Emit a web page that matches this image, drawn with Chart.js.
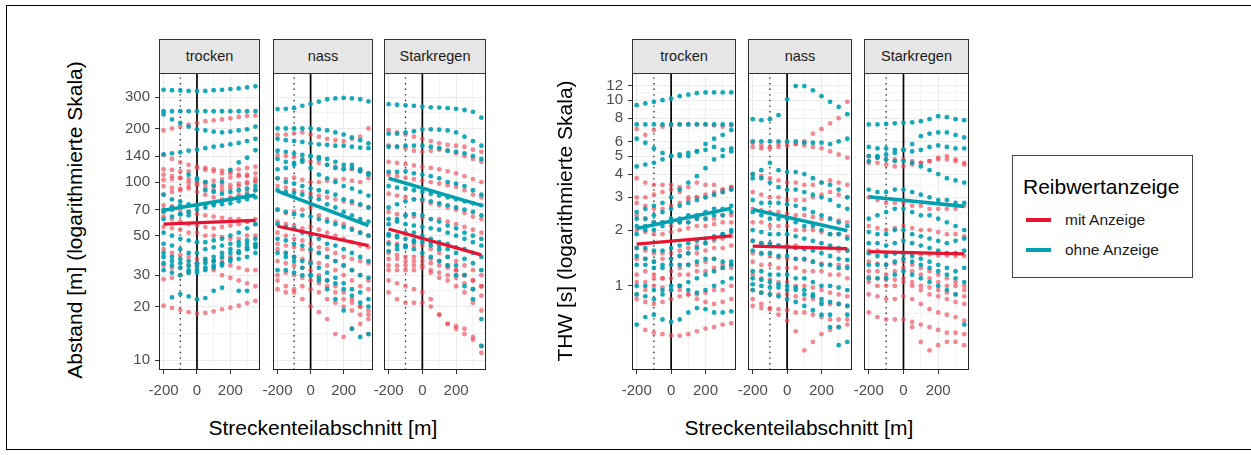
<!DOCTYPE html>
<html>
<head>
<meta charset="utf-8">
<script src="https://cdn.jsdelivr.net/npm/chart.js@4.4.0/dist/chart.umd.min.js"></script>
<style>
  body { margin: 0; background: #fff; font-family: "Liberation Sans", Arial, sans-serif; }
  #wrap { position: relative; width: 1251px; height: 455px; overflow: hidden; }
  .frame { position: absolute; left: 6px; top: 5px; width: 1300px; height: 443px; border: 1px solid #000; }
  .strip { position: absolute; top: 39px; height: 35px; box-sizing: border-box; background: #e6e6e6;
           border: 1px solid #333; font-size: 14.5px; color: #1a1a1a; text-align: center; line-height: 32px; }
  .title { position: absolute; font-size: 21px; color: #000; text-align: center; white-space: nowrap; line-height: 24px; }
  .ytitle { width: 400px; transform: rotate(-90deg); }
  .legend { position: absolute; left: 1012px; top: 155px; width: 181px; height: 123px; box-sizing: border-box; border: 1px solid #444; }
  .legend .lt { position: absolute; left: 10px; top: 19px; font-size: 21px; }
  .legend .key { position: absolute; left: 13px; width: 25px; height: 4px; }
  .legend .lab { position: absolute; left: 52px; font-size: 15.5px; color: #1a1a1a; line-height: 18px; }
</style>
</head>
<body>
<div id="wrap">
  <div class="frame"></div>
</div>
<script>
// Streckenteilabschnitt positions (m)
const xPos = [-200, -150, -100, -50, 0, 50, 100, 150, 200, 250, 300, 350];
const xTickLabels = [-200, 0, 200];
const abstandTicks = [10, 20, 30, 50, 70, 100, 140, 200, 300];
const thwTicks = [1, 2, 3, 4, 5, 6, 8, 10, 12];
const stripLabels = ["trocken", "nass", "Starkregen"];
const seriesNames = ["mit Anzeige", "ohne Anzeige"];

// Abstand [m], trocken
const abstandTrockenOhne = [
  [330, 328, 327, 325, 325, 325, 328, 330, 333, 336, 340, 345],
  [250, 250, 250, 250, 250, 250, 250, 250, 250, 250, 250, 250],
  [240, 225, 215, 205, 198, 195, 192, 190, 192, 195, 198, 205],
  [143, 145, 147, 150, 152, 155, 158, 160, 163, 166, 170, 175],
  [85, 80, 78, 75, 74, 75, 76, 78, 80, 82, 85, 90],
  [68, 70, 66, 65, 70, 72, 74, 75, 76, 78, 80, 82],
  [70, 72, 74, 110, 105, 100, 95, 100, 117, 129, 137, 151],
  [62, 64, 66, 68, 103, 90, 88, 86, 88, 90, 92, 95],
  [52, 50, 48, 47, 46, 46, 47, 48, 50, 52, 55, 58],
  [45, 44, 42, 40, 40, 42, 43, 44, 45, 46, 47, 48],
  [40, 38, 37, 36, 35, 37, 38, 40, 42, 44, 45, 45],
  [38, 36, 35, 34, 34, 35, 36, 38, 40, 41, 43, 44],
  [35, 34, 33, 32, 32, 33, 34, 35, 37, 40, 42, 43],
  [32, 31, 30, 31, 31, 32, 33, 34, 36, 37, 38, 40],
  [null, 22.5, 23.5, 22.8, 22, 22.3, 24.5, 25.5, null, 24.5, 24.5, null]
];
const abstandTrockenMit = [
  [195, 200, 205, 210, 215, 220, 222, 225, 228, 232, 235, 236],
  [142, 135, 129, 125, 122, 120, 118, 116, 115, 118, 120, 122],
  [118, 117, 115, 115, 120, 117, 115, 112, 112, 110, 108, 105],
  [110, 108, 106, 104, 100, 98, 96, 95, 96, 98, 100, 102],
  [103, 104, 105, 100, 98, 100, 102, 104, 106, 108, 110, 112],
  [95, 93, 92, 95, 96, 93, 90, 90, 92, 95, 98, 100],
  [85, 88, 90, 92, 88, 85, 82, 80, 82, 85, 88, 90],
  [74, 73, 70, 68, 66, 65, 64, 63, 62, 62, 60, 58],
  [64, 62, 60, 58, 57, 56, 55, 56, 57, 58, 60, 62],
  [56, 55, 54, 52, 52, 50, 50, 49, 48, 48, 50, 50],
  [42, 40, 39, 38, 37, 36, 36, 37, 38, 40, 42, 44],
  [34, 33, 33, 34, 35, 36, 36, 35, 34, 33, 32, 32],
  [28.5, 29, 30, 31, 33, 33, 32, 30, 29, 28, 27, 26],
  [20.2, 19.6, 19.1, 18.6, 18.3, 18.4, 18.8, 19.3, 19.7, 20.2, 20.9, 21.5]
];

// Abstand [m], nass
const abstandNassOhne = [
  [257, 258, 260, 268, 275, 283, 292, 295, 297, 295, 292, 284],
  [200, 200, 200, 200, 200, 198, 195, 190, 185, 178, 172, 165],
  [175, 172, 170, 168, 165, 163, 162, 160, 160, 158, 156, 155],
  [150, 148, 145, 142, 140, 138, 135, 130, 125, 120, 115, 110],
  [135, 130, 128, 133, 140, 135, 125, 120, 118, 125, 118, 112],
  [118, 120, 125, 130, 120, 110, 105, 100, 95, 92, 88, 84],
  [105, 100, 98, 95, 92, 90, 88, 85, 80, 78, 75, 72],
  [90, 88, 87, 85, 82, 80, 75, 72, 68, 65, 62, 60],
  [70, 68, 66, 65, 64, 62, 60, 58, 56, 54, 52, 50],
  [58, 56, 55, 52, 50, 48, 45, 44, 42, 40, 38, 36],
  [48, 47, 45, 44, 42, 40, 38, 36, 34, 32, 30, 29],
  [40, 40, 38, 36, 35, 33, 31, 29, 27, 25, 24, 22],
  [32, 32, 31, 30, 30, 29, 28, 27, 25, 23, 21, 20],
  [null, 38, 36, 33, 30, 28, 25, 22, 19, 15, 13.5, 14]
];
const abstandNassMit = [
  [185, 185, 188, 190, 185, 180, 175, 172, 170, 175, 180, 200],
  [142, 140, 138, 135, 130, 128, 125, 122, 120, 118, 115, 112],
  [105, 104, 106, 103, 100, 100, 102, 103, 104, 102, 100, 105],
  [95, 93, 90, 88, 86, 84, 82, 80, 78, 76, 74, 72],
  [70, 67, 68, 70, 72, 65, 62, 60, 58, 55, 52, 50],
  [60, 58, 57, 55, 56, 54, 52, 50, 48, 46, 44, 43],
  [52, 50, 48, 47, 45, 43, 42, 40, 38, 37, 36, 35],
  [45, 44, 43, 42, 41, 40, 38, 36, 34, 32, 30, 28],
  [42, 40, 38, 37, 36, 35, 34, 32, 30, 28, 26, 25],
  [36, 35, 34, 33, 32, 30, 28, 26, 24, 22, 20, 18],
  [30, 31, 30, 29, 28, 27, 26, 24, 22, 21, 20, 19],
  [25, 24, 25, 26, 25, 24, 22, 21, 20, 19, 18, 17],
  [28, 26, 24, 22, 20, 18.6, 17, 14, 13.5, 15, 16, 14]
];

// Abstand [m], Starkregen
const abstandStarkOhne = [
  [274, 272, 270, 268, 265, 263, 262, 260, 258, 254, 248, 230],
  [187, 187, 190, 193, 198, 198, 197, 195, 190, 180, 170, 160],
  [158, 158, 160, 160, 160, 158, 155, 150, 148, 145, 140, 135],
  [114, 114, 115, 112, 110, 108, 105, 100, 98, 95, 90, 85],
  [95, 93, 92, 90, 88, 86, 84, 82, 80, 78, 76, 74],
  [72, 75, 78, 80, 80, 78, 76, 74, 72, 70, 68, 65],
  [62, 60, 58, 57, 56, 55, 54, 52, 50, 48, 46, 44],
  [58, 62, 65, 66, 65, 62, 60, 57, 55, 52, 50, 48],
  [51, 50, 52, 52, 50, 48, 46, 45, 43, 42, 40, 38],
  [41, 42, 44, 46, 48, 46, 44, 42, 40, 37, 35, 32],
  [45, 44, 43, 42, 40, 38, 36, 34, 30, 26, 22, 17],
  [50, 49, 48, 47, 46, 44, 42, 38, 34, 30, 25, 12]
];
const abstandStarkMit = [
  [196, 190, 185, 180, 175, 170, 165, 162, 160, 158, 152, 148],
  [160, 158, 155, 150, 148, 150, 152, 150, 145, 140, 135, 130],
  [130, 128, 126, 124, 122, 120, 118, 115, 112, 108, 104, 100],
  [110, 108, 106, 104, 102, 100, 98, 96, 94, 90, 85, 82],
  [86, 84, 82, 80, 78, 76, 74, 72, 70, 67, 64, 62],
  [68, 66, 65, 64, 63, 62, 62, 60, 58, 56, 54, 52],
  [46, 45, 44, 44, 44, 42, 40, 38, 36, 34, 32, 30],
  [40, 39, 38, 38, 38, 37, 36, 34, 32, 30, 28, 26],
  [37, 37, 36, 36, 36, 35, 34, 33, 32, 30, 28, 26],
  [34, 34, 34, 34, 34, 32, 31, 30, 29, 27, 25, 23],
  [32, 32, 32, 32, 33, 31, 29, 28, 26, 24, 21, 19],
  [24, 22, 21, 21, 21, 20, 18, 16, 15, 14, 13, 12],
  [28, 27, 26, 25, 24, 22, 18, 16, 15.5, 15, 13.5, 11]
];

// THW [s], trocken
const thwTrockenOhne = [
  [9.4, 9.6, 9.8, 10, 10.2, 10.5, 10.7, 10.9, 11, 11, 11, 11],
  [7.4, 7.4, 7.4, 7.4, 7.4, 7.4, 7.4, 7.4, 7.4, 7.4, 7.4, 7.4],
  [6.2, 5.9, 5.5, 5.2, 5.0, 5.0, 5.0, 5.3, 5.8, 6.2, 6.5, 6.9],
  [4.4, 4.5, 4.6, 4.8, 5.0, 5.1, 5.2, 5.3, 5.4, 5.6, 5.4, 5.5],
  [2.5, 2.6, 2.7, 2.8, 3.0, 3.3, 3.6, 3.9, 4.3, 4.8, 5.0, 5.3],
  [2.3, 2.3, 2.4, 2.5, 2.6, 2.7, 2.8, 2.9, 3.0, 3.1, 3.2, 3.3],
  [2.1, 2.1, 2.2, 2.2, 2.3, 2.3, 2.4, 2.4, 2.5, 2.6, 2.6, 2.7],
  [1.9, 2.0, 2.0, 2.1, 2.2, 2.2, 2.2, 2.3, 2.3, 2.4, 2.4, 2.5],
  [1.6, 1.6, 1.55, 1.55, 1.6, 1.65, 1.7, 1.75, 1.8, 1.85, 1.9, 1.95],
  [1.45, 1.4, 1.35, 1.3, 1.4, 1.45, 1.5, 1.6, 1.7, 1.8, 1.9, 2.0],
  [1.3, 1.3, 1.25, 1.25, 1.3, 1.3, 1.3, 1.35, 1.4, 1.4, 1.35, 1.35],
  [1.0, 1.0, 0.95, 0.95, 1.0, 1.0, 1.05, 1.1, 1.15, 1.2, 1.25, 1.3],
  [0.9, 0.88, 0.85, 0.9, 0.95, 1.0, 0.95, 0.92, 0.95, 1.0, 1.05, 1.1],
  [0.62, 0.68, 0.7, 0.66, 0.64, 0.66, 0.72, 0.76, 0.75, 0.72, 0.72, 0.73]
];
const thwTrockenMit = [
  [7.0, 6.5, 6.9, 7.2, 7.3, 7.4, 7.4, 7.4, 7.4, 7.3, 7.2, 7.3],
  [3.8, 3.6, 3.5, 3.5, 3.5, 3.4, 3.4, 3.6, 3.5, 3.5, 3.3, 3.4],
  [3.0, 3.0, 3.1, 3.2, 3.3, 3.2, 3.0, 3.0, 3.1, 3.2, 3.3, 3.4],
  [2.8, 2.7, 2.6, 2.6, 2.7, 2.8, 2.9, 3.0, 3.0, 3.1, 3.2, 3.3],
  [2.4, 2.3, 2.2, 2.2, 2.1, 2.2, 2.2, 2.3, 2.3, 2.3, 2.4, 2.4],
  [2.0, 1.95, 1.9, 1.9, 1.95, 2.0, 2.05, 2.1, 2.1, 2.15, 2.2, 2.2],
  [1.6, 1.55, 1.5, 1.5, 1.5, 1.55, 1.6, 1.65, 1.7, 1.75, 1.8, 1.85],
  [1.4, 1.4, 1.35, 1.4, 1.4, 1.45, 1.5, 1.5, 1.55, 1.6, 1.6, 1.65],
  [1.15, 1.2, 1.15, 1.1, 1.2, 1.25, 1.3, 1.3, 1.35, 1.4, 1.3, 1.25],
  [1.05, 1.05, 1.1, 1.1, 1.1, 1.15, 1.15, 1.2, 1.2, 1.25, 1.25, 1.3],
  [0.9, 0.95, 1.0, 0.98, 0.95, 0.95, 0.9, 0.9, 0.92, 0.95, 0.95, 1.0],
  [0.85, 0.82, 0.8, 0.82, 0.85, 0.88, 0.9, 0.85, 0.82, 0.8, 0.82, 0.85],
  [null, 0.58, 0.56, 0.55, 0.54, 0.54, 0.55, 0.57, 0.59, 0.6, 0.62, 0.63]
];

// THW [s], nass
const thwNassOhne = [
  [7.9, 7.8, 7.9, 8.3, 10.1, 11.9, 11.9, 11.3, 10.5, 9.8, 9.2, 8.4],
  [6.0, 6.0, 6.0, 6.0, 6.0, 6.0, 5.9, 5.9, 5.9, 5.8, 6.0, 6.2],
  [4.0, 4.2, 4.6, 4.2, 4.1, 4.1, 4.0, 3.8, 3.6, 3.5, 3.3, 3.0],
  [3.8, 3.8, 3.6, 3.4, 3.3, 3.3, 3.2, 3.1, 3.0, 2.9, 2.7, 2.6],
  [2.9, 2.8, 2.8, 2.8, 2.75, 2.7, 2.6, 2.5, 2.4, 2.3, 2.2, 2.1],
  [2.5, 2.4, 2.3, 2.3, 2.3, 2.2, 2.1, 2.1, 2.0, 1.9, 1.9, 1.8],
  [2.0, 1.95, 1.9, 1.9, 1.9, 1.85, 1.8, 1.75, 1.7, 1.65, 1.6, 1.55],
  [1.75, 1.7, 1.68, 1.65, 1.62, 1.6, 1.58, 1.55, 1.5, 1.45, 1.4, 1.38],
  [1.55, 1.5, 1.5, 1.45, 1.45, 1.4, 1.4, 1.35, 1.3, 1.3, 1.25, 1.25],
  [1.2, 1.2, 1.15, 1.15, 1.15, 1.1, 1.1, 1.05, 1.0, 1.0, 0.98, 0.95],
  [1.02, 1.0, 0.98, 0.98, 0.95, 0.95, 0.9, 0.88, 0.85, 0.82, 0.8, 0.78],
  [0.95, 0.92, 0.9, 0.88, 0.85, 0.82, 0.78, 0.74, 0.7, 0.6, 0.48, 0.5],
  [1.1, 1.08, 1.05, 1.02, 1.0, 0.98, 0.95, 0.9, 0.8, 0.7, 0.6, 0.7]
];
const thwNassMit = [
  [5.6, 5.5, 5.5, 5.6, 5.7, 5.8, 6.0, 6.6, 7.0, 7.5, 8.0, 9.8],
  [5.9, 5.7, 5.6, 5.8, 5.9, 5.8, 5.7, 5.6, 5.5, 5.3, 5.1, 4.9],
  [4.0, 3.9, 3.8, 3.7, 3.6, 3.6, 3.5, 3.5, 3.6, 3.7, 3.6, 3.5],
  [3.2, 3.1, 3.0, 3.0, 2.9, 2.9, 2.9, 3.0, 3.1, 3.2, 3.1, 3.0],
  [2.6, 2.55, 2.5, 2.5, 2.45, 2.4, 2.4, 2.35, 2.3, 2.3, 2.25, 2.2],
  [2.2, 2.2, 2.1, 2.1, 2.1, 2.0, 2.0, 2.0, 1.95, 1.9, 1.9, 1.85],
  [1.75, 1.7, 1.7, 1.65, 1.65, 1.65, 1.6, 1.6, 1.6, 1.6, 1.55, 1.55],
  [1.5, 1.48, 1.45, 1.42, 1.4, 1.4, 1.38, 1.35, 1.32, 1.3, 1.3, 1.28],
  [1.35, 1.3, 1.3, 1.25, 1.25, 1.25, 1.2, 1.2, 1.2, 1.15, 1.15, 1.1],
  [1.15, 1.1, 1.08, 1.05, 1.05, 1.0, 1.0, 0.98, 0.95, 0.92, 0.9, 0.88],
  [0.95, 0.92, 0.9, 0.9, 0.9, 0.88, 0.85, 0.85, 0.82, 0.8, 0.8, 0.78],
  [0.78, 0.76, 0.76, 0.75, 0.74, 0.72, 0.72, 0.7, 0.68, 0.66, 0.66, 0.66],
  [0.85, 0.8, 0.75, 0.7, 0.65, 0.57, 0.45, 0.5, 0.55, 0.58, 0.6, 0.62]
];

// THW [s], Starkregen
const thwStarkOhne = [
  [7.4, 7.4, 7.45, 7.5, 7.55, 7.6, 7.7, 7.9, 8.2, 8.1, 7.9, 7.8],
  [4.7, 4.9, 5.1, 5.2, 5.4, 5.8, 6.4, 6.6, 6.7, 6.7, 6.5, 6.3],
  [5.6, 5.5, 5.5, 5.4, 5.4, 5.3, 5.4, 5.6, 5.7, 5.6, 5.5, 5.5],
  [5.0, 5.0, 4.8, 4.7, 4.7, 4.6, 4.4, 4.2, 4.0, 3.8, 3.7, 3.6],
  [3.3, 3.2, 3.2, 3.3, 3.3, 3.2, 3.1, 3.0, 2.9, 2.9, 2.8, 2.8],
  [2.3, 2.4, 2.5, 2.6, 2.6, 2.5, 2.4, 2.4, 2.3, 2.2, 2.1, 2.0],
  [1.95, 1.9, 1.9, 2.0, 2.0, 1.9, 1.85, 1.8, 1.75, 1.7, 1.75, 1.8],
  [1.7, 1.7, 1.65, 1.7, 1.75, 1.7, 1.65, 1.6, 1.55, 1.5, 1.5, 1.55],
  [1.5, 1.45, 1.45, 1.5, 1.5, 1.45, 1.4, 1.35, 1.3, 1.25, 1.2, 1.25],
  [1.3, 1.3, 1.3, 1.35, 1.4, 1.35, 1.3, 1.25, 1.2, 1.15, 1.1, 1.05],
  [1.1, 1.1, 1.1, 1.15, 1.2, 1.15, 1.1, 1.05, 1.0, 0.95, 0.9, 0.62]
];
const thwStarkMit = [
  [5.0, 4.9, 4.8, 4.8, 4.8, 4.7, 4.6, 4.7, 4.8, 4.8, 4.7, 4.6],
  [4.6, 4.6, 4.5, 4.4, 4.4, 4.5, 4.6, 4.7, 4.9, 5.0, 4.8, 4.5],
  [3.0, 2.9, 2.8, 2.8, 2.8, 2.7, 2.7, 2.6, 2.6, 2.6, 2.6, 2.7],
  [2.1, 2.05, 2.0, 2.05, 2.1, 2.05, 2.0, 2.0, 1.95, 1.9, 1.9, 1.85],
  [1.55, 1.55, 1.5, 1.5, 1.5, 1.5, 1.48, 1.48, 1.46, 1.46, 1.45, 1.45],
  [1.35, 1.32, 1.3, 1.32, 1.35, 1.3, 1.25, 1.2, 1.15, 1.1, 1.05, 1.0],
  [1.2, 1.2, 1.15, 1.2, 1.25, 1.2, 1.15, 1.1, 1.05, 1.0, 1.0, 0.95],
  [1.12, 1.1, 1.08, 1.08, 1.1, 1.05, 1.0, 0.98, 0.95, 0.92, 0.9, 0.88],
  [1.05, 1.0, 1.0, 1.0, 1.05, 1.0, 0.95, 0.9, 0.88, 0.85, 0.82, 0.8],
  [0.9, 0.88, 0.85, 0.85, 0.88, 0.85, 0.8, 0.75, 0.72, 0.7, 0.68, 0.65],
  [0.72, 0.68, 0.66, 0.66, 0.66, 0.64, 0.62, 0.6, 0.58, 0.56, 0.56, 0.55],
  [null, null, null, null, null, 0.6, 0.5, 0.45, 0.48, 0.5, 0.5, 0.48]
];

// regression lines (value at x=-200, value at x=350), per panel
const fitAbstandMit = [[58, 61], [56.5, 44], [54.5, 39]];
const fitAbstandOhne = [[69.5, 84.5], [89, 57], [105, 74]];
const fitThwMit = [[1.68, 1.86], [1.64, 1.59], [1.53, 1.49]];
const fitThwOhne = [[2.04, 2.62], [2.58, 1.98], [3.02, 2.68]];

const colMit = "rgb(232, 20, 50)";
const colOhne = "rgb(0, 160, 176)";
const ptMit = "rgba(236, 70, 84, 0.64)";
const ptOhne = "rgba(0, 160, 176, 0.9)";

const wrap = document.getElementById("wrap");

function pts(rows) {
  let out = [];
  rows.forEach(function (r) {
    r.forEach(function (v, i) {
      if (v != null) out.push({ x: xPos[i], y: v });
    });
  });
  return out;
}

function minorTicks(major) {
  let m = [];
  for (let i = 0; i < major.length - 1; i++) m.push(Math.sqrt(major[i] * major[i + 1]));
  return m;
}

const panelBorder = {
  id: "panelBorder",
  afterDraw: function (chart) {
    const a = chart.chartArea, ctx = chart.ctx;
    ctx.save();
    ctx.strokeStyle = "#222";
    ctx.lineWidth = 1;
    ctx.strokeRect(Math.round(a.left) + 0.5, Math.round(a.top) + 0.5, Math.round(a.right - a.left) - 1, Math.round(a.bottom - a.top) - 1);
    ctx.restore();
  }
};

function makePanel(cfg) {
  const yw = cfg.showY ? 60 : 20;
  const w = cfg.right - cfg.left + yw + 20;
  const h = 20 + 297 + 40;
  const c = document.createElement("canvas");
  c.width = w; c.height = h;
  c.style.position = "absolute";
  c.style.left = (cfg.left - yw) + "px";
  c.style.top = "53px";
  c.style.width = w + "px";
  c.style.height = h + "px";
  wrap.appendChild(c);

  const strip = document.createElement("div");
  strip.className = "strip";
  strip.style.left = cfg.left + "px";
  strip.style.width = (cfg.right - cfg.left) + "px";
  strip.textContent = cfg.strip;
  wrap.appendChild(strip);

  const yTicks = cfg.majors.concat(minorTicks(cfg.majors)).concat(cfg.extraMinor);
  const xTicks = [-200, -100, 0, 100, 200, 300];

  new Chart(c, {
    type: "scatter",
    data: {
      datasets: [{
        type: "line", label: seriesNames[1] + " fit",
        data: [{ x: -200, y: cfg.fitOhne[0] }, { x: 350, y: cfg.fitOhne[1] }],
        borderColor: colOhne, borderWidth: 3.6, pointRadius: 0, showLine: true
      }, {
        type: "line", label: seriesNames[0] + " fit",
        data: [{ x: -200, y: cfg.fitMit[0] }, { x: 350, y: cfg.fitMit[1] }],
        borderColor: colMit, borderWidth: 3.2, pointRadius: 0, showLine: true
      }, {
        label: seriesNames[1],
        data: pts(cfg.ohne),
        backgroundColor: ptOhne, pointRadius: 2.4, pointBorderWidth: 0, pointHoverRadius: 2.4
      }, {
        label: seriesNames[0],
        data: pts(cfg.mit),
        backgroundColor: ptMit, pointRadius: 2.4, pointBorderWidth: 0, pointHoverRadius: 2.4
      }, {
        type: "line", label: "0 m",
        data: [{ x: 0, y: cfg.yMin }, { x: 0, y: cfg.yMax }],
        borderColor: "#000", borderWidth: 1.7, pointRadius: 0, showLine: true
      }, {
        type: "line", label: "-100 m",
        data: [{ x: -100, y: cfg.yMin }, { x: -100, y: cfg.yMax }],
        borderColor: "#333", borderWidth: 1.4, borderDash: [1.4, 4.2], pointRadius: 0, showLine: true
      }]
    },
    options: {
      responsive: false,
      animation: false,
      devicePixelRatio: 1,
      layout: { padding: { top: 20, right: 20, left: 0, bottom: 0 } },
      plugins: { legend: { display: false }, tooltip: { enabled: false } },
      scales: {
        x: {
          type: "linear", min: -227.5, max: 377.5,
          afterBuildTicks: function (s) { s.ticks = xTicks.map(function (v) { return { value: v }; }); },
          afterFit: function (s) { s.height = 40; },
          ticks: {
            autoSkip: false, maxRotation: 0, padding: 8, color: "#4d4d4d",
            font: { size: 15, family: "Liberation Sans" },
            callback: function (v) { return xTickLabels.includes(v) ? String(v) : ""; }
          },
          grid: {
            lineWidth: 1, tickLength: 4,
            color: function (ctx) { return ctx.tick && xTickLabels.includes(ctx.tick.value) ? "#ebebeb" : "#f4f4f4"; },
            tickColor: function (ctx) { return ctx.tick && xTickLabels.includes(ctx.tick.value) ? "#333" : "rgba(0,0,0,0)"; }
          },
          border: { display: false }
        },
        y: {
          type: "logarithmic", min: cfg.yMin, max: cfg.yMax,
          afterBuildTicks: function (s) { s.ticks = yTicks.map(function (v) { return { value: v }; }); },
          afterFit: function (s) { s.width = yw; },
          ticks: {
            display: cfg.showY, autoSkip: false, padding: 5, color: "#4d4d4d",
            font: { size: 15, family: "Liberation Sans" },
            callback: function (v) { return cfg.majors.includes(v) ? String(v) : ""; }
          },
          grid: {
            lineWidth: 1, tickLength: 4,
            color: function (ctx) { return ctx.tick && cfg.majors.includes(ctx.tick.value) ? "#ebebeb" : "#f4f4f4"; },
            tickColor: function (ctx) { return cfg.showY && ctx.tick && cfg.majors.includes(ctx.tick.value) ? "#333" : "rgba(0,0,0,0)"; }
          },
          border: { display: false }
        }
      }
    },
    plugins: [panelBorder]
  });
}

const abstandData = [[abstandTrockenMit, abstandTrockenOhne], [abstandNassMit, abstandNassOhne], [abstandStarkMit, abstandStarkOhne]];
const thwData = [[thwTrockenMit, thwTrockenOhne], [thwNassMit, thwNassOhne], [thwStarkMit, thwStarkOhne]];
const leftEdges = [[159, 260], [273, 373], [384, 486]];
const rightEdges = [[632, 736], [748, 852], [864, 969]];

for (let i = 0; i < 3; i++) {
  makePanel({
    left: leftEdges[i][0], right: leftEdges[i][1], showY: i === 0, strip: stripLabels[i],
    mit: abstandData[i][0], ohne: abstandData[i][1],
    fitMit: fitAbstandMit[i], fitOhne: fitAbstandOhne[i],
    yMin: 8.8, yMax: 410, majors: abstandTicks, extraMinor: []
  });
  makePanel({
    left: rightEdges[i][0], right: rightEdges[i][1], showY: i === 0, strip: stripLabels[i],
    mit: thwData[i][0], ohne: thwData[i][1],
    fitMit: fitThwMit[i], fitOhne: fitThwOhne[i],
    yMin: 0.353, yMax: 14, majors: thwTicks, extraMinor: [0.707]
  });
}

function addText(cls, text, cx, cy) {
  const d = document.createElement("div");
  d.className = cls;
  d.textContent = text;
  wrap.appendChild(d);
  d.style.left = (cx - d.offsetWidth / 2) + "px";
  d.style.top = (cy - d.offsetHeight / 2) + "px";
}
addText("title ytitle", "Abstand [m] (logarithmierte Skala)", 75, 220);
addText("title ytitle", "THW [s] (logarithmierte Skala)", 565, 221);
addText("title", "Streckenteilabschnitt [m]", 323, 428);
addText("title", "Streckenteilabschnitt [m]", 799, 428);

// legend
const lg = document.createElement("div");
lg.className = "legend";
lg.innerHTML = '<div class="lt">Reibwertanzeige</div>' +
  '<div class="key" style="top:62px;background:' + colMit + '"></div>' +
  '<div class="lab" style="top:55px">' + seriesNames[0] + '</div>' +
  '<div class="key" style="top:92px;background:' + colOhne + '"></div>' +
  '<div class="lab" style="top:85px">' + seriesNames[1] + '</div>';
wrap.appendChild(lg);
</script>
</body>
</html>
